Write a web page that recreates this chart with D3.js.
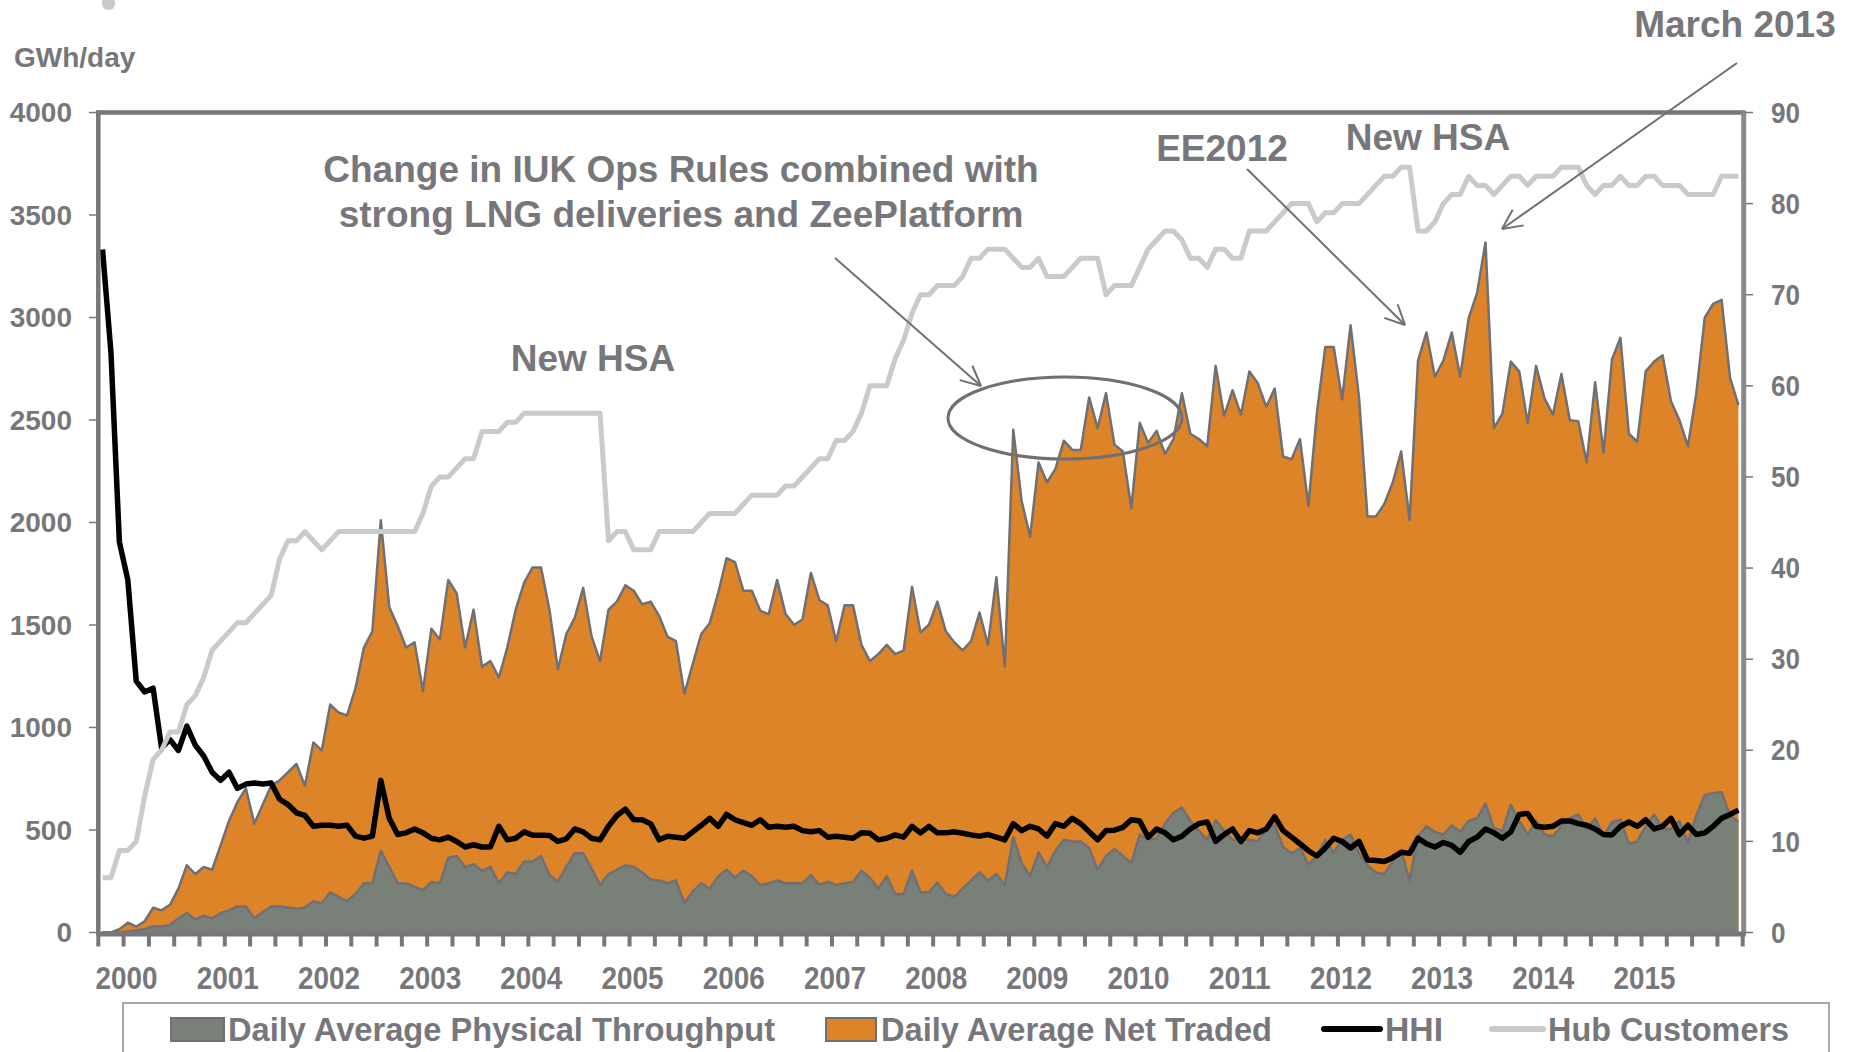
<!DOCTYPE html>
<html><head><meta charset="utf-8">
<script src="https://cdn.jsdelivr.net/npm/d3@7"></script>
<style>body{margin:0;background:#fff;} svg{display:block;}</style>
</head><body>
<svg id="chart" width="1851" height="1052"></svg>
<script>
// ---------- DATA (monthly, Oct 1999 .. Dec 2015) ----------
const firstMonth = "1999-10";
const yearLabels = ["2000","2001","2002","2003","2004","2005","2006","2007","2008","2009","2010","2011","2012","2013","2014","2015"];
const leftTicks = [0,500,1000,1500,2000,2500,3000,3500,4000];
const rightTicks = [0,10,20,30,40,50,60,70,80,90];

const netTraded = [
0,0,16,48,29,55,121,108,135,214,
328,285,320,306,425,544,637,703,531,624,
716,742,782,822,716,927,888,1112,1073,1059,
1192,1390,1469,2011,1588,1495,1390,1416,1178,1482,
1429,1720,1654,1390,1575,1297,1324,1244,1390,1575,
1707,1781,1781,1575,1284,1456,1535,1681,1443,1324,
1575,1614,1694,1667,1601,1614,1545,1443,1421,1165,
1310,1456,1509,1654,1826,1807,1667,1667,1569,1553,
1720,1553,1501,1527,1754,1622,1596,1421,1596,1596,
1403,1324,1358,1403,1358,1376,1686,1464,1501,1614,
1469,1416,1376,1421,1561,1403,1733,1297,2452,2103,
1931,2293,2195,2262,2399,2354,2354,2610,2460,2631,
2380,2346,2071,2486,2388,2447,2335,2407,2631,2433,
2407,2372,2764,2520,2645,2526,2737,2679,2565,2653,
2322,2309,2407,2082,2531,2856,2856,2600,2962,2610,
2029,2029,2090,2195,2346,2011,2790,2927,2711,2790,
2927,2711,2996,3120,3366,2460,2531,2785,2737,2486,
2764,2605,2526,2724,2499,2494,2293,2684,2341,2795,
2901,2433,2394,2737,2785,2816,2592,2499,2372,2631,
2999,3067,3086,2705,2573];

const physicalThroughput = [
0,0,0,5,11,16,29,29,37,69,
95,63,82,69,95,108,127,127,69,100,
127,127,122,116,122,153,143,196,174,153,
188,240,240,399,320,240,240,222,206,246,
240,365,373,320,333,301,320,240,293,285,
346,346,373,280,248,320,386,386,312,232,
285,306,328,320,293,259,254,240,254,143,
201,240,214,275,306,267,301,275,232,240,
254,240,240,240,280,232,248,232,240,246,
301,267,214,275,188,188,301,196,196,243,
188,174,214,254,293,254,285,232,465,338,
275,391,320,399,452,444,444,412,306,373,
407,373,338,478,452,460,531,584,610,544,
497,452,547,497,452,452,452,444,505,523,
417,386,412,333,373,452,391,452,478,386,
328,293,285,346,399,254,470,518,491,478,
523,491,544,557,629,510,494,624,544,478,
544,478,470,518,557,576,505,557,470,539,
550,433,444,518,576,505,505,544,439,571,
671,680,684,571,540];

const hhi = [
3332,2830,1905,1720,1226,1173,1192,901,941,888,
1007,914,861,782,742,782,703,724,729,724,
729,650,624,584,571,518,523,523,518,523,
470,460,470,742,557,478,486,505,486,460,
452,465,444,417,428,417,417,518,452,460,
491,475,475,473,444,457,505,491,460,452,
518,571,602,550,550,531,452,470,465,460,
491,523,557,518,576,550,536,523,550,513,
518,513,518,497,491,497,465,470,465,460,
486,484,452,460,476,465,518,486,518,486,
486,491,484,476,470,478,465,452,531,497,
518,505,470,531,518,557,531,491,452,497,
499,513,550,544,465,505,486,452,470,505,
531,539,444,478,505,444,497,486,505,565,
497,465,433,399,373,412,460,444,412,444,
354,351,346,365,391,386,460,433,417,439,
425,391,444,465,505,486,460,491,576,581,
518,513,518,544,544,531,523,505,478,476,
518,539,518,550,505,518,557,478,523,478,
486,518,557,576,597];

const hubCustomers = [
6,6,9,9,10,15,19,20,22,22,
25,26,28,31,32,33,34,34,35,36,
37,41,43,43,44,43,42,43,44,44,
44,44,44,44,44,44,44,44,46,49,
50,50,51,52,52,55,55,55,56,56,
57,57,57,57,57,57,57,57,57,57,
43,44,44,42,42,42,44,44,44,44,
44,45,46,46,46,46,47,48,48,48,
48,49,49,50,51,52,52,54,54,55,
57,60,60,60,63,65,68,70,70,71,
71,71,72,74,74,75,75,75,74,73,
73,74,72,72,72,73,74,74,74,70,
71,71,71,73,75,76,77,77,76,74,
74,73,75,75,74,74,77,77,77,78,
79,80,80,80,78,79,79,80,80,80,
81,82,83,83,84,84,77,77,78,80,
81,81,83,82,82,81,82,83,83,82,
83,83,83,84,84,84,82,81,82,82,
83,82,82,83,83,82,82,82,81,81,
81,81,83,83,83];

const seriesNames = ["Daily Average Physical Throughput","Daily Average Net Traded","HHI","Hub Customers"];
const annotations = [
  {text:"Change in IUK Ops Rules combined with", x:681, y:169},
  {text:"strong LNG deliveries and ZeePlatform", x:681, y:214},
  {text:"New HSA", x:593, y:358},
  {text:"EE2012", x:1222, y:148},
  {text:"New HSA", x:1428, y:137},
  {text:"March 2013", x:1735, y:24}
];

// ---------- STYLE ----------
const C = {orange:"#dd8428", grey:"#788078", outline:"#707074", cust:"#c8cbc8", text:"#77777b", axis:"#77777b"};
const FONT = "'Liberation Sans', Arial, sans-serif";
const NARROW = "'Liberation Sans Narrow', 'Arial Narrow', 'Liberation Sans', Arial, sans-serif";

const svg = d3.select("#chart");
svg.append("rect").attr("width",1851).attr("height",1052).attr("fill","#fff");

const L = 98.3, R = 1742.7, T = 112.5, B = 932.5;
const nMonthsAxis = 195; // Oct 1999 .. Jan 2016
const x = d3.scaleLinear().domain([0, nMonthsAxis]).range([L, R]);
const yL = d3.scaleLinear().domain([0, 4000]).range([B, T]);
const yR = d3.scaleLinear().domain([0, 90]).range([B, T]);
const xm = i => x(i + 0.5);

const areaNet = d3.area().x((d,i)=>xm(i)).y0(B).y1(d=>yL(d));
const lineLeft = d3.line().x((d,i)=>xm(i)).y(d=>yL(d));
const lineRight = d3.line().x((d,i)=>xm(i)).y(d=>yR(d));

svg.append("path").attr("d", areaNet(netTraded)).attr("fill", C.orange);
svg.append("path").attr("d", lineLeft(netTraded)).attr("fill","none").attr("stroke",C.outline).attr("stroke-width",2.5).attr("stroke-linejoin","round");
svg.append("path").attr("d", areaNet(physicalThroughput)).attr("fill", C.grey);
svg.append("path").attr("d", lineLeft(physicalThroughput)).attr("fill","none").attr("stroke",C.outline).attr("stroke-width",2.5).attr("stroke-linejoin","round");
svg.append("path").attr("d", lineLeft(hhi)).attr("fill","none").attr("stroke","#000").attr("stroke-width",5.5).attr("stroke-linejoin","round");
svg.append("path").attr("d", lineRight(hubCustomers)).attr("fill","none").attr("stroke",C.cust).attr("stroke-width",5).attr("stroke-linejoin","round");

// frame
svg.append("line").attr("x1",L-2).attr("x2",R+2).attr("y1",T).attr("y2",T).attr("stroke",C.axis).attr("stroke-width",4.5);
svg.append("line").attr("x1",L).attr("x2",L).attr("y1",T-2).attr("y2",B+2).attr("stroke",C.axis).attr("stroke-width",4.5);
svg.append("line").attr("x1",R+1).attr("x2",R+1).attr("y1",T-2).attr("y2",B+2).attr("stroke","#8a8a8e").attr("stroke-width",5);

// left axis
leftTicks.forEach(v=>{
  svg.append("line").attr("x1",89).attr("x2",L-2).attr("y1",yL(v)).attr("y2",yL(v)).attr("stroke",C.axis).attr("stroke-width",1.5);
  svg.append("text").attr("x",72).attr("y",yL(v)).attr("dy","0.35em").attr("text-anchor","end")
    .attr("font-family",FONT).attr("font-weight","bold").attr("font-size",28).attr("fill",C.text).text(v);
});
svg.append("text").attr("x",14).attr("y",67).attr("font-family",FONT).attr("font-weight","bold").attr("font-size",28).attr("fill",C.text).text("GWh/day");

// right axis
rightTicks.forEach(v=>{
  svg.append("line").attr("x1",R+3).attr("x2",1753).attr("y1",yR(v)).attr("y2",yR(v)).attr("stroke",C.axis).attr("stroke-width",1.5);
  svg.append("text").attr("x",1771).attr("y",yR(v)).attr("dy","0.35em").attr("text-anchor","start")
    .attr("font-family",NARROW).attr("font-weight","bold").attr("font-size",29).attr("fill",C.text)
    .attr("transform",`translate(${1771*0.1},0) scale(0.9,1)`).text(v);
});

// bottom axis
svg.append("line").attr("x1",L-2).attr("x2",R+3).attr("y1",B+1.5).attr("y2",B+1.5).attr("stroke",C.axis).attr("stroke-width",5);
d3.range(0, nMonthsAxis+1, 3).forEach(m=>{
  svg.append("line").attr("x1",x(m)).attr("x2",x(m)).attr("y1",B).attr("y2",B+14).attr("stroke",C.axis).attr("stroke-width",4);
});
yearLabels.forEach((lab,k)=>{
  svg.append("text").attr("x",x(3+12*k)+3).attr("y",978).attr("dy","0.35em").attr("text-anchor","middle")
    .attr("font-family",NARROW).attr("font-weight","bold").attr("font-size",32).attr("fill",C.text)
    .attr("textLength",62).attr("lengthAdjust","spacingAndGlyphs").text(lab);
});

// annotations
annotations.forEach(a=>{
  svg.append("text").attr("x",a.x).attr("y",a.y).attr("dy","0.35em").attr("text-anchor","middle")
    .attr("font-family",FONT).attr("font-weight","bold").attr("font-size",37).attr("fill",C.text).text(a.text);
});
svg.append("ellipse").attr("cx",1065).attr("cy",418).attr("rx",117).attr("ry",41)
  .attr("fill","none").attr("stroke",C.outline).attr("stroke-width",3);

function arrow(x1,y1,x2,y2){
  svg.append("line").attr("x1",x1).attr("y1",y1).attr("x2",x2).attr("y2",y2).attr("stroke",C.outline).attr("stroke-width",2);
  const ang = Math.atan2(y2-y1,x2-x1), len=22, sp=0.45;
  [ang+Math.PI-sp, ang+Math.PI+sp].forEach(a=>{
    svg.append("line").attr("x1",x2).attr("y1",y2).attr("x2",x2+len*Math.cos(a)).attr("y2",y2+len*Math.sin(a))
      .attr("stroke",C.outline).attr("stroke-width",2);
  });
}
arrow(835,258,981,386);
arrow(1247,169,1405,325);
arrow(1737,63,1502,229);

// small artifact top-left
svg.append("rect").attr("x",102).attr("y",-6).attr("width",13).attr("height",16).attr("rx",6).attr("fill","#c8cbc8");

// legend
svg.append("rect").attr("x",123).attr("y",1003).attr("width",1706).attr("height",70).attr("fill","none").attr("stroke","#8c8c8c").attr("stroke-width",1.5);
const legY = 1029;
svg.append("rect").attr("x",171).attr("y",1018).attr("width",53).attr("height",23).attr("fill",C.grey).attr("stroke",C.outline).attr("stroke-width",2);
svg.append("rect").attr("x",826).attr("y",1018).attr("width",50).attr("height",23).attr("fill",C.orange).attr("stroke",C.outline).attr("stroke-width",2);
svg.append("line").attr("x1",1324).attr("x2",1380).attr("y1",legY).attr("y2",legY).attr("stroke","#000").attr("stroke-width",6).attr("stroke-linecap","round");
svg.append("line").attr("x1",1492).attr("x2",1543).attr("y1",legY).attr("y2",legY).attr("stroke",C.cust).attr("stroke-width",6).attr("stroke-linecap","round");
const legTexts = [[seriesNames[0],228,547],[seriesNames[1],881,391],[seriesNames[2],1385,58],[seriesNames[3],1548,241]];
legTexts.forEach(([t,lx,w])=>{
  svg.append("text").attr("x",lx).attr("y",legY).attr("dy","0.35em").attr("font-family",NARROW).attr("font-weight","bold")
    .attr("font-size",34).attr("fill",C.text).attr("textLength",w).attr("lengthAdjust","spacingAndGlyphs").text(t);
});
</script>
</body></html>
